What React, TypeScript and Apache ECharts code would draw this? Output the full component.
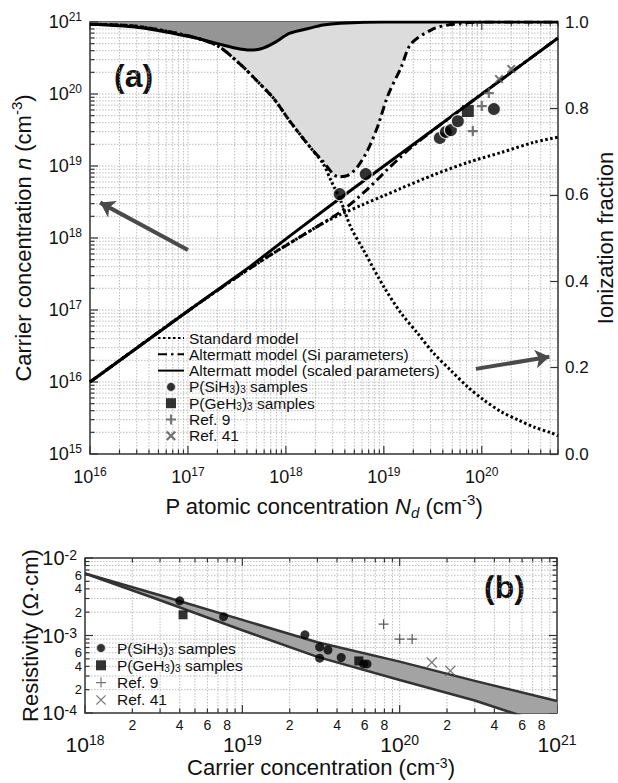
import React, { useEffect, useRef } from 'react';
import * as echarts from 'echarts';

const FONT = '"Liberation Sans", Arial, Helvetica, sans-serif';

// ---------------- Panel (a) ----------------
// Ionization fraction (right axis) vs P atomic concentration Nd
const fracSiNd = [1e16, 3e16, 1e17, 2e17, 3.5e17, 5e17, 7.5e17, 1.1e18, 1.7e18, 2.4e18, 3.4e18, 4.3e18, 5.4e18, 6.9e18, 8.7e18, 1.1e19, 1.5e19, 1.9e19, 3.2e19, 4.5e19, 6.6e19, 1e20, 6e20];
const fracSi = [0.995, 0.99, 0.968, 0.945, 0.9, 0.865, 0.823, 0.77, 0.715, 0.677, 0.642, 0.645, 0.665, 0.705, 0.76, 0.83, 0.895, 0.95, 0.984, 0.993, 0.998, 1.0, 1.0];

const fracScaledNd = [1e16, 3e16, 1e17, 2e17, 3e17, 4.3e17, 5.6e17, 7.5e17, 1.1e18, 1.7e18, 2.4e18, 3.6e18, 1e19, 6e20];
const fracScaled = [0.995, 0.988, 0.967, 0.95, 0.94, 0.935, 0.938, 0.951, 0.974, 0.985, 0.993, 0.997, 1.0, 1.0];

const fracStdNd = [1e16, 3e16, 1e17, 2e17, 3.5e17, 5e17, 7.5e17, 1.1e18, 1.7e18, 2.4e18, 2.9e18, 3.6e18, 4.6e18, 6.2e18, 1e19, 1.5e19, 2.2e19, 3.2e19, 4.8e19, 7.2e19, 1.05e20, 1.6e20, 2.35e20, 3.4e20, 5.1e20, 6e20];
const fracStd = [0.995, 0.99, 0.968, 0.945, 0.9, 0.865, 0.823, 0.77, 0.715, 0.672, 0.632, 0.588, 0.525, 0.472, 0.387, 0.326, 0.28, 0.234, 0.194, 0.155, 0.125, 0.097, 0.079, 0.0625, 0.049, 0.042];

// Carrier concentration n (left axis)
const nStdNd = [1e16, 1e17, 3.5e17, 7.5e17, 1.1e18, 1.7e18, 2.4e18, 3.6e18, 6.2e18, 1e19, 1.5e19, 3.2e19, 7.2e19, 1.6e20, 3.4e20, 6e20];
const nStd = [1e16, 9.7e16, 3.15e17, 6.2e17, 8.5e17, 1.22e18, 1.61e18, 2.12e18, 2.93e18, 3.87e18, 4.9e18, 7.5e18, 1.12e19, 1.55e19, 2.13e19, 2.52e19];
const nSiNd = [1e16, 1e17, 3.5e17, 7.5e17, 1.1e18, 1.7e18, 2.4e18, 3.4e18, 4.3e18, 5.4e18, 6.9e18, 8.7e18, 1.1e19, 1.5e19, 1.9e19, 3.2e19, 1e20, 6e20];
const nSi = [1e16, 9.7e16, 3.15e17, 6.2e17, 8.5e17, 1.22e18, 1.62e18, 2.18e18, 2.77e18, 3.59e18, 4.86e18, 6.6e18, 9.1e18, 1.35e19, 1.81e19, 3.16e19, 1e20, 6e20];
const nScaledNd = [1e16, 1e17, 4.3e17, 1.1e18, 3.6e18, 6e20];
const nScaled = [1e16, 9.7e16, 4.0e17, 1.07e18, 3.59e18, 6e20];

// Samples (a)
const siH3Nd = [3.54e18, 6.53e18, 3.73e19, 4.3e19, 4.84e19, 5.7e19, 1.33e20];
const siH3N = [4.08e18, 7.74e18, 2.45e19, 2.97e19, 3.16e19, 4.2e19, 6.19e19];
const geH3Nd = [7.2e19];
const geH3N = [5.8e19];
const ref9Nd = [8.1e19, 1.0e20, 1.18e20];
const ref9N = [3.06e19, 6.8e19, 1.03e20];
const ref41Nd = [1.5e20, 2.0e20];
const ref41N = [1.61e20, 2.22e20];

// Arrows (data coordinates)
const arrowLeft = { from: [1e17, 6.8e17], to: [1.27e16, 3.1e18] };
const arrowRight = { from: [8.7e19, 0.197], to: [4.9e20, 0.225] };

// ---------------- Panel (b) ----------------
const bandN = [1e18, 3e18, 1e19, 3e19, 1e20, 3e20, 1e21];
const rhoUpper = [6.3e-3, 3.3e-3, 1.59e-3, 8.2e-4, 4.6e-4, 2.6e-4, 1.43e-4];
const rhoLower = [6.3e-3, 2.85e-3, 1.17e-3, 5.3e-4, 2.67e-4, 1.45e-4, 6.5e-5];
const bSiN = [4.0e18, 7.6e18, 2.5e19, 3.1e19, 3.1e19, 3.5e19, 4.25e19, 5.9e19, 6.2e19];
const bSiRho = [2.8e-3, 1.75e-3, 1.02e-3, 7.1e-4, 5.1e-4, 6.5e-4, 5.2e-4, 4.3e-4, 4.3e-4];
const bGeN = [4.2e18, 5.5e19];
const bGeRho = [1.85e-3, 4.7e-4];
const bRef9N = [7.9e19, 1.0e20, 1.2e20];
const bRef9Rho = [1.4e-3, 9e-4, 9e-4];
const bRef41N = [1.6e20, 2.1e20];
const bRef41Rho = [4.5e-4, 3.5e-4];

// Tick labels
const fracTickInterval = 0.2;
const minorLabelsX = [2, 4, 6, 8];
const minorLabelsY = [2, 4, 6];
const gridMults = [1, 2, 3, 4, 5, 6, 7, 8, 9];

const N_STD = 'Standard model';
const N_SI = 'Altermatt model (Si parameters)';
const N_SC = 'Altermatt model (scaled parameters)';
const N_SIH = 'P(SiH3)3 samples';
const N_GEH = 'P(GeH3)3 samples';
const N_R9 = 'Ref. 9';
const N_R41 = 'Ref. 41';

const PLUS_THICK = 'path://M3.9,0H6.1V3.9H10V6.1H6.1V10H3.9V6.1H0V3.9H3.9Z';
const CROSS_THICK = 'path://M1.6,0L5,3.4L8.4,0L10,1.6L6.6,5L10,8.4L8.4,10L5,6.6L1.6,10L0,8.4L3.4,5L0,1.6Z';
const PLUS_THIN = 'path://M4.4,0H5.6V4.4H10V5.6H5.6V10H4.4V5.6H0V4.4H4.4Z';
const CROSS_THIN = 'path://M0.8,0L5,4.2L9.2,0L10,0.8L5.8,5L10,9.2L9.2,10L5,5.8L0.8,10L0,9.2L4.2,5L0,0.8Z';
const SQUARE = 'path://M0,0H10V10H0Z';

const zip = (a: number[], b: number[]) => a.map((v, i) => [v, b[i]]);

const powLabel = (v: number) => {
  const e = Math.log10(v);
  if (Math.abs(e - Math.round(e)) > 1e-6) return '';
  return `{b|10}{s|${Math.round(e)}}`;
};

function gridSeries(kind: 'x' | 'y', xAxisIndex: number, yAxisIndex: number, expLo: number, expHi: number, maxV: number, ref: number, bothSides: boolean, labelMults: number[], labelFont: string) {
  const data: number[][] = [];
  for (let e = expLo; e <= expHi; e++) {
    for (const m of gridMults) {
      const v = m * Math.pow(10, e);
      if (v <= maxV * 1.0001) data.push(kind === 'x' ? [v, ref, m] : [ref, v, m]);
    }
  }
  return {
    type: 'custom',
    xAxisIndex,
    yAxisIndex,
    z: 1,
    silent: true,
    clip: false,
    data,
    renderItem: (params: any, api: any) => {
      const cs = params.coordSys;
      const m = api.value(2);
      const p = api.coord([api.value(0), api.value(1)]);
      const L = m === 1 ? 8 : 4.5;
      const left = cs.x, right = cs.x + cs.width, top = cs.y, bot = cs.y + cs.height;
      const gl = { stroke: '#adadad', lineWidth: 0.8, lineDash: [1.5, 1.5] };
      const tk = { stroke: '#333', lineWidth: 1.2 };
      const ch: any[] = [];
      if (kind === 'x') {
        const x = p[0];
        if (x > left + 1 && x < right - 1) ch.push({ type: 'line', shape: { x1: x, y1: top, x2: x, y2: bot }, style: gl });
        ch.push({ type: 'line', shape: { x1: x, y1: bot, x2: x, y2: bot - L }, style: tk });
        ch.push({ type: 'line', shape: { x1: x, y1: top, x2: x, y2: top + L }, style: tk });
        if (labelMults.indexOf(m) >= 0) {
          ch.push({ type: 'text', style: { text: String(m), x, y: bot + 5, align: 'center', verticalAlign: 'top', font: labelFont, fill: '#111' } });
        }
      } else {
        const y = p[1];
        if (y > top + 1 && y < bot - 1) ch.push({ type: 'line', shape: { x1: left, y1: y, x2: right, y2: y }, style: gl });
        ch.push({ type: 'line', shape: { x1: left, y1: y, x2: left + L, y2: y }, style: tk });
        if (bothSides) ch.push({ type: 'line', shape: { x1: right, y1: y, x2: right - L, y2: y }, style: tk });
        if (labelMults.indexOf(m) >= 0) {
          ch.push({ type: 'text', style: { text: String(m), x: left - 3, y, align: 'right', verticalAlign: 'middle', font: labelFont, fill: '#111' } });
        }
      }
      return { type: 'group', children: ch };
    },
  };
}

const legendFmt = (name: string) => {
  if (name === N_SIH) return '{t|P(SiH}{sub|3}{t|)}{sub|3}{t| samples}';
  if (name === N_GEH) return '{t|P(GeH}{sub|3}{t|)}{sub|3}{t| samples}';
  return `{t|${name}}`;
};
const legendRich = {
  t: { fontSize: 15.5, fontFamily: FONT, color: '#111', lineHeight: 16 },
  sub: { fontSize: 10, fontFamily: FONT, color: '#111', lineHeight: 10, verticalAlign: 'bottom' },
};

const axisLabelRich = (big: number, small: number, lh: number) => ({
  b: { fontSize: big, fontFamily: FONT, color: '#111', lineHeight: lh },
  s: { fontSize: small, fontFamily: FONT, color: '#111', lineHeight: small, verticalAlign: 'top' },
});

const nameRich = {
  t: { fontSize: 22, fontFamily: FONT, color: '#111', lineHeight: 28 },
  i: { fontSize: 22, fontFamily: FONT, color: '#111', lineHeight: 28, fontStyle: 'italic' },
  isub: { fontSize: 15, fontFamily: FONT, color: '#111', lineHeight: 15, fontStyle: 'italic', verticalAlign: 'bottom' },
  sup: { fontSize: 15, fontFamily: FONT, color: '#111', lineHeight: 15, verticalAlign: 'top' },
};
const nameRichCompact = {
  t: { fontSize: 22, fontFamily: FONT, color: '#111', lineHeight: 22 },
  sup: { fontSize: 14, fontFamily: FONT, color: '#111', lineHeight: 11, verticalAlign: 'top' },
};

const lineBase = { type: 'line', symbol: 'none', showSymbol: false, smooth: 0.3, silent: true };
const DOT = { color: '#000', width: 3, type: [2.5, 2.5], cap: 'butt' };
const DASHDOT = { color: '#000', width: 3, type: [9, 4, 2.5, 4], cap: 'butt' };
const SOLID = { color: '#000', width: 3, type: 'solid' };
const NO_SYMBOL = { opacity: 0 };

function buildOption() {
  const logAxisCommon = {
    type: 'log',
    logBase: 10,
    axisLine: { show: false },
    axisTick: { show: false },
    splitLine: { show: false },
    minorTick: { show: false },
    nameMoveOverlap: false,
  };
  return {
    animation: false,
    textStyle: { fontFamily: FONT },
    grid: [
      { left: 90, top: 22, width: 468, height: 432, show: true, borderColor: '#333', borderWidth: 1.5, backgroundColor: 'transparent', containLabel: false, outerBoundsMode: 'none' },
      { left: 85, top: 558, width: 472, height: 155, show: true, borderColor: '#333', borderWidth: 1.5, backgroundColor: 'transparent', containLabel: false, outerBoundsMode: 'none' },
    ],
    xAxis: [
      {
        ...logAxisCommon, gridIndex: 0, min: 1e16, max: 6e20,
        axisLabel: { formatter: powLabel, rich: axisLabelRich(18, 12, 22), margin: 12, showMaxLabel: false },
        name: '{t|P atomic concentration }{i|N}{isub|d}{t| (cm}{sup|-3}{t|)}',
        nameLocation: 'middle', nameGap: 38, nameTextStyle: { rich: nameRich },
      },
      {
        ...logAxisCommon, gridIndex: 1, min: 1e18, max: 1e21,
        axisLabel: { formatter: powLabel, rich: axisLabelRich(21, 14, 22), margin: 20 },
        name: '{t|Carrier concentration (cm}{sup|-3}{t|)}',
        nameLocation: 'middle', nameGap: 43, nameTextStyle: { rich: nameRichCompact },
      },
    ],
    yAxis: [
      {
        ...logAxisCommon, gridIndex: 0, min: 1e15, max: 1e21,
        axisLabel: { formatter: powLabel, rich: axisLabelRich(18, 12, 22), margin: 8 },
        name: '{t|Carrier concentration }{i|n}{t| (cm}{sup|-3}{t|)}',
        nameLocation: 'middle', nameRotate: 90, nameGap: 53, nameTextStyle: { rich: nameRich },
      },
      {
        type: 'value', gridIndex: 0, position: 'right', min: 0, max: 1, interval: fracTickInterval,
        nameMoveOverlap: false,
        axisLine: { show: false }, splitLine: { show: false },
        axisTick: { show: true, inside: true, length: 8, lineStyle: { color: '#333', width: 1.2 } },
        axisLabel: { formatter: (v: number) => v.toFixed(1), fontSize: 17, color: '#111', margin: 7, fontFamily: FONT },
        name: 'Ionization fraction', nameLocation: 'middle', nameRotate: 90, nameGap: 36,
        nameTextStyle: { fontSize: 22, color: '#111', fontFamily: FONT },
      },
      {
        ...logAxisCommon, gridIndex: 1, min: 1e-4, max: 1e-2,
        axisLabel: { formatter: powLabel, rich: axisLabelRich(20, 14, 20), margin: 8 },
        name: 'Resistivity (Ω·cm)', nameLocation: 'middle', nameRotate: 90, nameGap: 44,
        nameTextStyle: { fontSize: 22, color: '#111', fontFamily: FONT },
      },
    ],
    legend: [
      {
        data: [
          { name: N_STD, itemStyle: NO_SYMBOL },
          { name: N_SI, itemStyle: NO_SYMBOL },
          { name: N_SC, itemStyle: NO_SYMBOL },
          { name: N_SIH, icon: 'circle' },
          { name: N_GEH, icon: SQUARE },
          { name: N_R9, icon: PLUS_THICK },
          { name: N_R41, icon: CROSS_THICK },
        ],
        orient: 'vertical', left: 152, top: 325, itemWidth: 26, itemHeight: 10, itemGap: 0.3,
        selectedMode: false, formatter: legendFmt, textStyle: { rich: legendRich, fontSize: 15.5, lineHeight: 16 },
      },
      {
        data: [
          { name: N_SIH, icon: 'circle' },
          { name: N_GEH, icon: SQUARE },
          { name: N_R9, icon: PLUS_THIN },
          { name: N_R41, icon: CROSS_THIN },
        ],
        orient: 'vertical', left: 90, top: 635, itemWidth: 22, itemHeight: 10, itemGap: 1.3,
        selectedMode: false, formatter: legendFmt, textStyle: { rich: legendRich, fontSize: 15.5, lineHeight: 16 },
      },
    ],
    graphic: [
      { type: 'text', left: 114, top: 60, style: { text: '(a)', font: `bold 32px ${FONT}`, fill: '#111' } },
      { type: 'text', left: 484, top: 571, style: { text: '(b)', font: `bold 32px ${FONT}`, fill: '#111' } },
    ],
    series: [
      // grids / ticks
      gridSeries('x', 0, 0, 16, 20, 6e20, 1e18, false, [], ''),
      gridSeries('y', 0, 0, 15, 21, 1e21, 1e18, false, [], ''),
      gridSeries('x', 1, 2, 18, 21, 1e21, 1e-3, true, minorLabelsX, `14px ${FONT}`),
      gridSeries('y', 1, 2, -4, -2, 1e-2, 1e19, true, minorLabelsY, `13px ${FONT}`),

      // fills (a)
      { ...lineBase, name: 'fillSi', xAxisIndex: 0, yAxisIndex: 1, data: zip(fracSiNd, fracSi), lineStyle: { opacity: 0 }, areaStyle: { color: '#dcdcdc', origin: 'end', opacity: 1 } },
      { ...lineBase, name: 'fillScaled', xAxisIndex: 0, yAxisIndex: 1, data: zip(fracScaledNd, fracScaled), lineStyle: { opacity: 0 }, areaStyle: { color: '#959595', origin: 'end', opacity: 1 } },

      // fraction curves (right axis)
      { ...lineBase, name: N_SI, xAxisIndex: 0, yAxisIndex: 1, data: zip(fracSiNd, fracSi), lineStyle: DASHDOT, itemStyle: { color: '#000' } },
      { ...lineBase, name: N_STD, xAxisIndex: 0, yAxisIndex: 1, data: zip(fracStdNd, fracStd), lineStyle: DOT, itemStyle: { color: '#000' } },
      { ...lineBase, name: N_SC, xAxisIndex: 0, yAxisIndex: 1, data: zip(fracScaledNd, fracScaled), lineStyle: SOLID, itemStyle: { color: '#000' },
        markLine: { silent: true, symbol: ['none', 'arrow'], symbolSize: 14, label: { show: false }, lineStyle: { color: '#4a4a4a', width: 4, type: 'solid' },
          data: [[{ coord: arrowRight.from }, { coord: arrowRight.to }]] } },

      // carrier concentration curves (left axis)
      { ...lineBase, name: N_STD, xAxisIndex: 0, yAxisIndex: 0, data: zip(nStdNd, nStd), lineStyle: DOT, itemStyle: { color: '#000' } },
      { ...lineBase, name: N_SI, xAxisIndex: 0, yAxisIndex: 0, data: zip(nSiNd, nSi), lineStyle: DASHDOT, itemStyle: { color: '#000' } },
      { ...lineBase, name: N_SC, xAxisIndex: 0, yAxisIndex: 0, smooth: false, data: zip(nScaledNd, nScaled), lineStyle: SOLID, itemStyle: { color: '#000' },
        markLine: { silent: true, symbol: ['none', 'arrow'], symbolSize: 14, label: { show: false }, lineStyle: { color: '#4a4a4a', width: 4, type: 'solid' },
          data: [[{ coord: arrowLeft.from }, { coord: arrowLeft.to }]] } },

      // samples (a)
      { type: 'scatter', name: N_SIH, xAxisIndex: 0, yAxisIndex: 0, z: 4, data: zip(siH3Nd, siH3N), symbol: 'circle', symbolSize: 13, itemStyle: { color: '#000', borderColor: '#fff', borderWidth: 1.2 } },
      { type: 'scatter', name: N_GEH, xAxisIndex: 0, yAxisIndex: 0, z: 4, data: zip(geH3Nd, geH3N), symbol: 'rect', symbolSize: 12, itemStyle: { color: '#000' } },
      { type: 'scatter', name: N_R9, xAxisIndex: 0, yAxisIndex: 0, z: 4, data: zip(ref9Nd, ref9N), symbol: PLUS_THICK, symbolSize: 10, itemStyle: { color: '#555' } },
      { type: 'scatter', name: N_R41, xAxisIndex: 0, yAxisIndex: 0, z: 4, data: zip(ref41Nd, ref41N), symbol: CROSS_THICK, symbolSize: 9, itemStyle: { color: '#555' } },

      // panel (b) band
      {
        type: 'custom', name: 'band', xAxisIndex: 1, yAxisIndex: 2, z: 2, silent: true, clip: true,
        data: zip(bandN, rhoUpper),
        renderItem: (params: any, api: any) => {
          if (params.dataIndex !== 0) return { type: 'group', children: [] };
          const pts: number[][] = [];
          bandN.forEach((n, i) => pts.push(api.coord([n, rhoUpper[i]])));
          for (let i = bandN.length - 1; i >= 0; i--) pts.push(api.coord([bandN[i], rhoLower[i]]));
          return { type: 'polygon', shape: { points: pts, smooth: 0 }, style: { fill: '#a3a3a3' } };
        },
      },
      { ...lineBase, smooth: false, name: 'bandUpper', xAxisIndex: 1, yAxisIndex: 2, z: 3, data: zip(bandN, rhoUpper), lineStyle: { color: '#333', width: 2.5 } },
      { ...lineBase, smooth: false, name: 'bandLower', xAxisIndex: 1, yAxisIndex: 2, z: 3, data: zip(bandN, rhoLower), lineStyle: { color: '#333', width: 2.5 } },

      // samples (b)
      { type: 'scatter', name: N_SIH, xAxisIndex: 1, yAxisIndex: 2, z: 4, data: zip(bSiN, bSiRho), symbol: 'circle', symbolSize: 9, itemStyle: { color: '#000' } },
      { type: 'scatter', name: N_GEH, xAxisIndex: 1, yAxisIndex: 2, z: 4, data: zip(bGeN, bGeRho), symbol: 'rect', symbolSize: 9, itemStyle: { color: '#000' } },
      { type: 'scatter', name: N_R9, xAxisIndex: 1, yAxisIndex: 2, z: 4, data: zip(bRef9N, bRef9Rho), symbol: PLUS_THIN, symbolSize: 10, itemStyle: { color: '#333' } },
      { type: 'scatter', name: N_R41, xAxisIndex: 1, yAxisIndex: 2, z: 4, data: zip(bRef41N, bRef41Rho), symbol: CROSS_THIN, symbolSize: 11, itemStyle: { color: '#555' } },
    ],
  };
}

export default function App() {
  const ref = useRef<HTMLDivElement>(null);
  useEffect(() => {
    if (!ref.current) return;
    const chart = echarts.init(ref.current, null, { renderer: 'svg' });
    chart.setOption(buildOption() as any);
    return () => chart.dispose();
  }, []);
  return (
    <div
      ref={ref}
      style={{ position: 'absolute', left: 0, top: 0, width: 618, height: 783, background: '#fff' }}
    />
  );
}
